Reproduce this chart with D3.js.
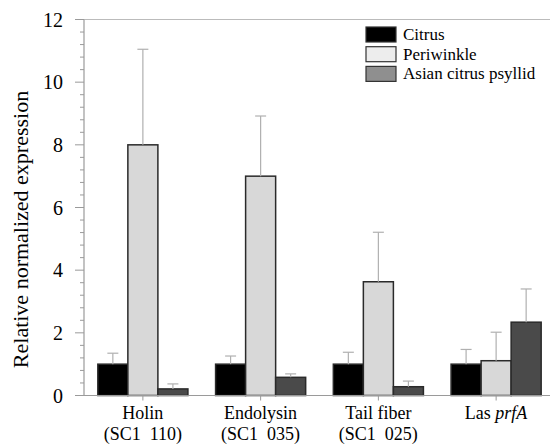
<!DOCTYPE html>
<html>
<head>
<meta charset="utf-8">
<script src="https://cdn.jsdelivr.net/npm/d3@7"></script>
<style>
  body { margin: 0; background: #fff; font-family: 'Times New Roman', 'Liberation Serif', serif; }
  svg text { font-family: 'Times New Roman', 'Liberation Serif', serif; }
</style>
</head>
<body>
<div id="chart"></div>
<script>
const genes = ['Holin', 'Endolysin', 'Tail fiber', 'Las prfA'];
const geneSub = ['(SC1\u00A0\u00A0110)', '(SC1\u00A0\u00A0035)', '(SC1\u00A0\u00A0025)', ''];
const hosts = ['Citrus', 'Periwinkle', 'Asian citrus psyllid'];

// mean values per host, in gene order
const citrusVals = [1.0, 1.0, 1.0, 1.0];
const periwinkleVals = [8.0, 7.0, 3.63, 1.11];
const psyllidVals = [0.21, 0.58, 0.28, 2.34];
// upper error bar ends
const citrusErr = [1.35, 1.26, 1.38, 1.47];
const periwinkleErr = [11.05, 8.92, 5.21, 2.02];
const psyllidErr = [0.37, 0.69, 0.46, 3.4];

const yTicks = [0, 2, 4, 6, 8, 10, 12];

const width = 550, height = 445;
const margin = { top: 19.5, left: 84, bottom: 49.5 };
const fontFam = "'Times New Roman', 'Liberation Serif', serif";

const barFill = { 'Citrus': '#000000', 'Periwinkle': '#d8d8d8', 'Asian citrus psyllid': '#4a4a4a' };
const legendFill = { 'Citrus': '#000000', 'Periwinkle': '#ededed', 'Asian citrus psyllid': '#8f8f8f' };
const axisGrey = '#9a9a9a';

const rows = [];
genes.forEach((g, i) => {
  rows.push({ gene: g, host: 'Citrus', v: citrusVals[i], e: citrusErr[i] });
  rows.push({ gene: g, host: 'Periwinkle', v: periwinkleVals[i], e: periwinkleErr[i] });
  rows.push({ gene: g, host: 'Asian citrus psyllid', v: psyllidVals[i], e: psyllidErr[i] });
});

const svg = d3.select('#chart').append('svg')
  .attr('width', width).attr('height', height);

const x0 = d3.scaleBand().domain(genes).range([margin.left, 555])
  .paddingInner(0.235).paddingOuter(0.1175);
const x1 = d3.scaleBand().domain(hosts).range([0, x0.bandwidth()]);
const y = d3.scaleLinear().domain([0, 12]).range([height - margin.bottom, margin.top]);

// top frame line
svg.append('line')
  .attr('x1', margin.left).attr('x2', width)
  .attr('y1', y(12)).attr('y2', y(12))
  .attr('stroke', '#bbb').attr('stroke-width', 1.2);

// y axis
const minor = d3.range(0, 12.01, 0.4).filter(t => Math.abs(t / 2 - Math.round(t / 2)) > 0.01);
const gy = svg.append('g').attr('transform', `translate(${margin.left},0)`);
gy.append('line').attr('x1', 0).attr('x2', 0).attr('y1', y(12)).attr('y2', y(0))
  .attr('stroke', axisGrey).attr('stroke-width', 1.2);
gy.selectAll('.minor').data(minor).enter().append('line')
  .attr('x1', -4).attr('x2', 0).attr('y1', d => y(d)).attr('y2', d => y(d))
  .attr('stroke', axisGrey);
gy.selectAll('.major').data(yTicks).enter().append('line')
  .attr('x1', -9).attr('x2', 0).attr('y1', d => y(d)).attr('y2', d => y(d))
  .attr('stroke', axisGrey);
gy.selectAll('.lab').data(yTicks).enter().append('text')
  .attr('x', -21).attr('y', d => y(d) + 7)
  .attr('text-anchor', 'end')
  .style('font-family', fontFam).style('font-size', '20px')
  .text(d => d);

svg.append('text')
  .attr('transform', `translate(28,${(y(0) + y(12)) / 2 + 22}) rotate(-90)`)
  .attr('text-anchor', 'middle')
  .style('font-family', fontFam).style('font-size', '22px')
  .text('Relative normalized expression');

// bars
const bars = svg.append('g');
bars.selectAll('rect').data(rows).enter().append('rect')
  .attr('x', d => x0(d.gene) + x1(d.host))
  .attr('y', d => y(d.v))
  .attr('width', x1.bandwidth())
  .attr('height', d => y(0) - y(d.v))
  .attr('fill', d => barFill[d.host])
  .attr('stroke', '#2a2a2a').attr('stroke-width', 1.5);

// error bars (upper only)
const err = svg.append('g').attr('stroke', '#b0b0b0').attr('stroke-width', 1.2);
rows.forEach(d => {
  const cx = x0(d.gene) + x1(d.host) + x1.bandwidth() / 2;
  err.append('line').attr('x1', cx).attr('x2', cx).attr('y1', y(d.v)).attr('y2', y(d.e));
  err.append('line').attr('x1', cx - 5.5).attr('x2', cx + 5.5).attr('y1', y(d.e)).attr('y2', y(d.e));
});

// x axis
svg.append('line')
  .attr('x1', margin.left - 9).attr('x2', width)
  .attr('y1', y(0)).attr('y2', y(0))
  .attr('stroke', axisGrey).attr('stroke-width', 1.2);
const gx = svg.append('g');
genes.forEach((g, i) => {
  const cx = x0(g) + x0.bandwidth() / 2;
  gx.append('line').attr('x1', cx).attr('x2', cx).attr('y1', y(0)).attr('y2', y(0) + 5)
    .attr('stroke', axisGrey);
  const t = gx.append('text').attr('x', cx).attr('y', 419)
    .attr('text-anchor', 'middle')
    .style('font-family', fontFam).style('font-size', '18px');
  if (g === 'Las prfA') {
    t.append('tspan').text('Las ');
    t.append('tspan').style('font-style', 'italic').text('prfA');
  } else {
    t.text(g);
  }
  if (geneSub[i]) {
    gx.append('text').attr('x', cx).attr('y', 440)
      .attr('text-anchor', 'middle')
      .style('font-family', fontFam).style('font-size', '18px')
      .text(geneSub[i]);
  }
});

// legend
const lg = svg.append('g').attr('transform', 'translate(366,27)');
hosts.forEach((h, i) => {
  lg.append('rect').attr('x', 0).attr('y', i * 19.7).attr('width', 30).attr('height', 15)
    .attr('fill', legendFill[h]).attr('stroke', '#333').attr('stroke-width', 1.2);
  lg.append('text').attr('x', 37).attr('y', i * 19.7 + 13)
    .style('font-family', fontFam).style('font-size', '17px').text(h);
});
</script>
</body>
</html>
